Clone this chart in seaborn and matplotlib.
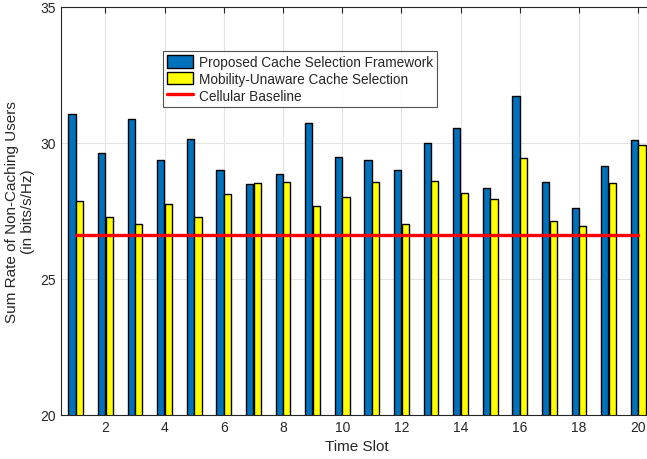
import numpy as np
import pandas as pd
import seaborn as sns
import matplotlib.pyplot as plt

# values
time_slots = list(range(1, 21))
proposed_rate = [31.05, 29.63, 30.89, 29.37, 30.13, 29.00, 28.50, 28.86, 30.72, 29.47,
                 29.37, 29.00, 29.99, 30.56, 28.33, 31.73, 28.58, 27.61, 29.15, 30.11]
unaware_rate = [27.86, 27.29, 27.01, 27.76, 27.27, 28.11, 28.52, 28.55, 27.70, 28.00,
                28.58, 27.01, 28.61, 28.15, 27.93, 29.45, 27.14, 26.96, 28.52, 29.93]
cellular_rate = [26.63] * 20
series_names = ["Proposed Cache Selection Framework", "Mobility-Unaware Cache Selection"]
series_colors = ["#0072BD", "#FFFF00"]

df = pd.DataFrame({
    "slot": time_slots * 2,
    "rate": proposed_rate + unaware_rate,
    "method": [series_names[0]] * 20 + [series_names[1]] * 20,
})

sns.set_style("white")
plt.rcParams["font.family"] = ["Liberation Sans", "DejaVu Sans"]
txt = "#262626"

fig = plt.figure(figsize=(6.47, 4.60), dpi=100)
# the right edge of the axes falls just outside the image, as in the reference
ax = fig.add_axes([61 / 647, 44 / 460, 592 / 647, 408 / 460])

sns.barplot(data=df, x="slot", y="rate", hue="method", hue_order=series_names,
            palette=series_colors, native_scale=True, width=0.52, gap=0.06,
            edgecolor="black", linewidth=1.0, saturation=1, errorbar=None, ax=ax)
sns.lineplot(x=time_slots, y=cellular_rate, color="#FF0000", linewidth=2.4,
             label="Cellular Baseline", ax=ax)

ax.set_xlim(0.5, 20.5)
ax.set_ylim(20, 35)
ax.set_xticks(range(2, 21, 2))
ax.set_yticks([20, 25, 30, 35])
ax.grid(True, color="#e3e3e3", linewidth=0.8)
ax.set_axisbelow(True)
ax.tick_params(direction="in", top=True, right=True, length=4, width=0.8,
               labelsize=10, colors=txt, labelcolor=txt)
for s in ax.spines.values():
    s.set_color(txt)
    s.set_linewidth(0.8)

ax.set_xlabel("Time Slot", fontsize=11, color=txt)
ax.set_ylabel("Sum Rate of Non-Caching Users\n(in bits/s/Hz)", fontsize=11, color=txt,
              linespacing=1.2)

handles, labels = ax.get_legend_handles_labels()
leg = ax.legend(handles, labels, loc="upper left", bbox_to_anchor=(0.172, 0.892),
                fontsize=9.8, frameon=True, fancybox=False, edgecolor=txt,
                handlelength=1.9, handleheight=1.0, handletextpad=0.45,
                labelspacing=0.2, borderpad=0.3, borderaxespad=0)
leg.get_frame().set_linewidth(0.8)
for t in leg.get_texts():
    t.set_color(txt)

fig.savefig("out.png", dpi=100)
